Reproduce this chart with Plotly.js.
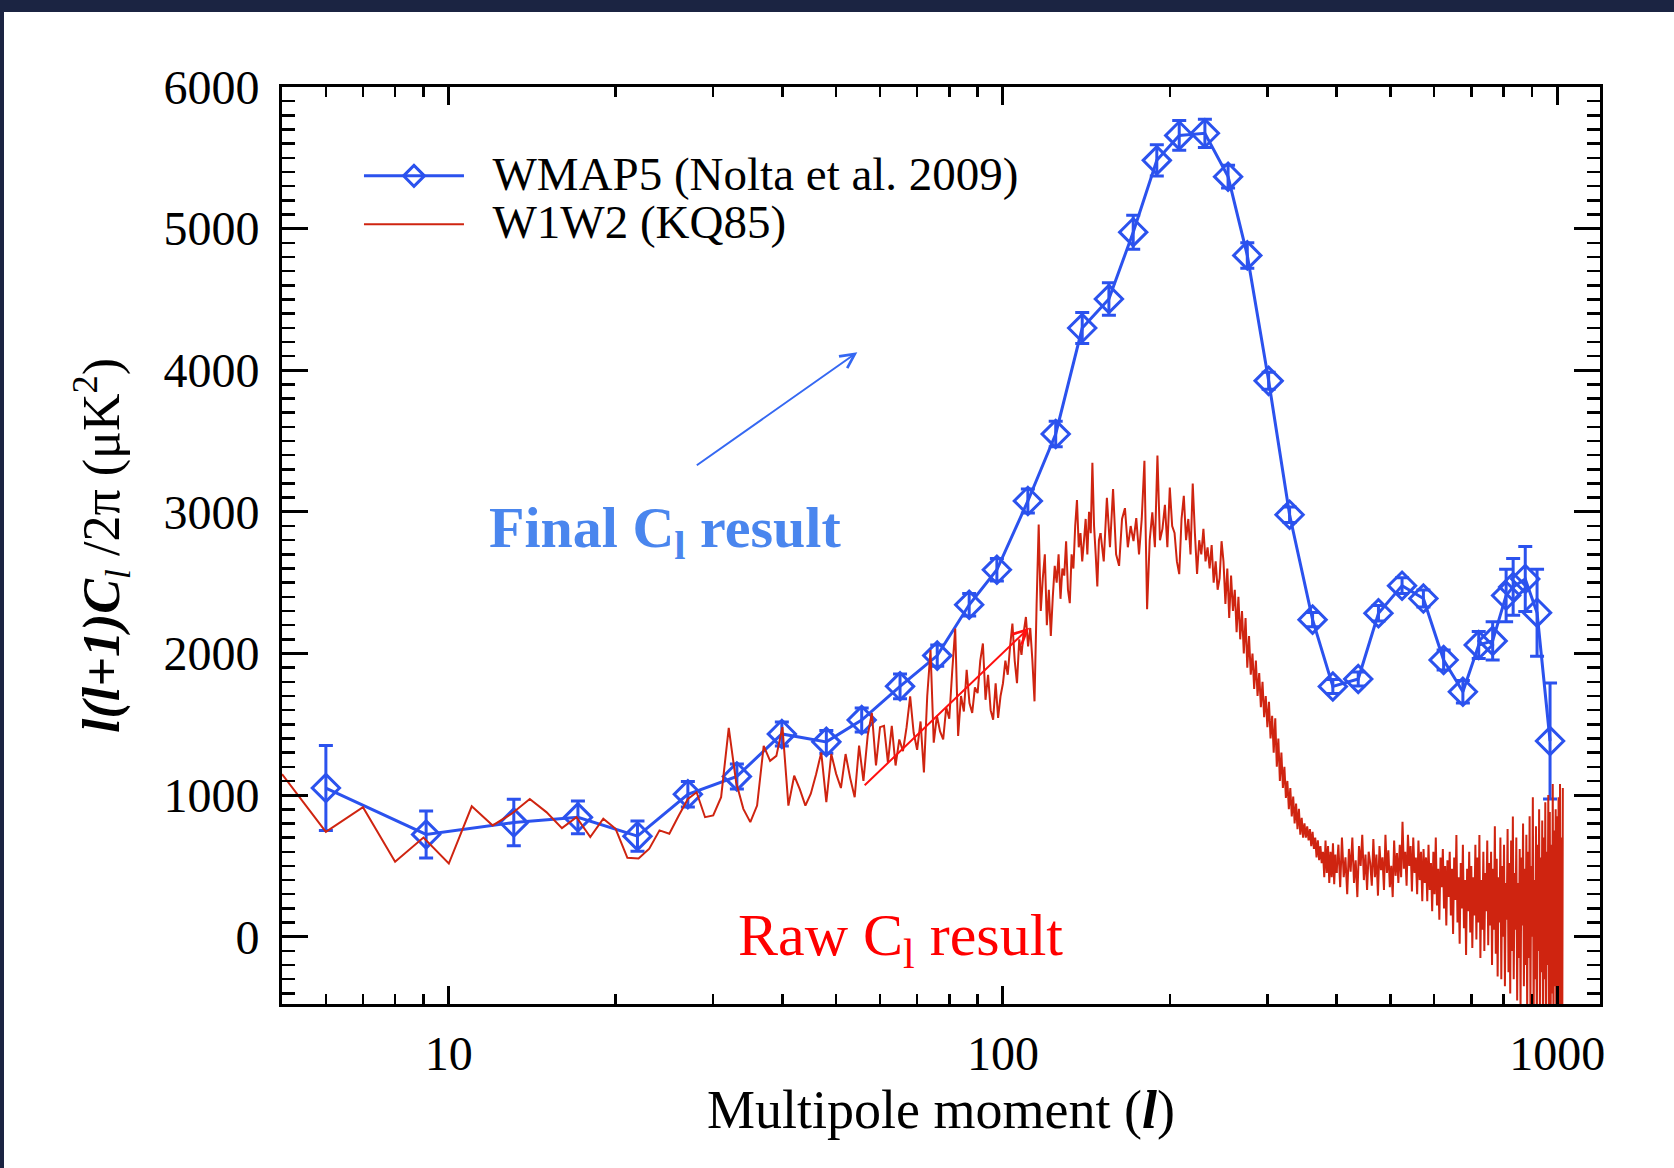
<!DOCTYPE html>
<html><head><meta charset="utf-8">
<script src="https://cdn.plot.ly/plotly-3.0.1.min.js"></script>
<style>
html,body{margin:0;padding:0;background:#1b2442;width:1674px;height:1168px;overflow:hidden;}
#plot{position:absolute;left:4px;top:12px;width:1670px;height:1156px;background:#fff;}
</style></head><body><div id="plot"></div>
<script>
// ---- WMAP5 binned spectrum (Nolta et al. 2009) ----
const wmapL = [6.0, 9.1, 13.1, 17.1, 21.9, 27.0, 33.1, 39.9, 48.0, 55.6,
  65.2, 76.1, 86.9, 97.5, 110.9, 124.5, 139, 155.3, 171.8, 189.5,
  208, 231.4, 254.8, 276, 301.6, 329, 362, 393.8, 437.6, 476,
  525, 573.7, 624, 676, 722, 765, 809, 833, 876, 920, 971];
const wmapDl = [1050, 722, 806, 843, 710, 1006, 1132, 1432, 1376, 1530,
  1768, 1985, 2344, 2591, 3077, 3550, 4298, 4503, 4975, 5482,
  5658, 5673, 5367, 4811, 3925, 2980, 2239, 1767, 1820, 2284,
  2479, 2388, 1954, 1730, 2060, 2089, 2409, 2470, 2526, 2288, 1382];
const wmapErr = [300, 166, 164, 115, 107, 90, 88, 85, 80, 85,
  88, 75, 80, 80, 85, 90, 110, 115, 120, 110,
  105, 100, 80, 90, 60, 55, 50, 50, 50, 55,
  55, 60, 70, 80, 95, 135, 185, 200, 230, 307, 410];

// ---- W1W2 (KQ85) raw spectrum, read per multipole ----
// segment 1: l = 5 ... 150, every multipole
const rawStart1 = 5, rawStep1 = 1;
const raw1 = [1148,740,914,529,700,517,921,786,870,973,
 880,767,844,704,833,762,557,552,622,751,
 727,856,973,1020,844,856,985,1475,1090,903,
 809,926,1347,1242,1277,1480,926,1137,1040,926,
 1010,1148,1300,950,1290,1150,1050,1290,1120,985,
 1350,1100,1420,1580,1209,1480,1489,1230,1489,1209,
 1393,1310,1480,1697,1440,1320,1520,1160,1700,2024,
 1370,1560,1450,1393,1620,1540,1880,2176,1417,1700,
 1590,1884,1650,1580,1760,1720,1950,2071,1673,1850,
 1600,1533,1790,1545,1700,1790,1950,1850,2050,2211,
 1950,1790,2100,1990,2150,2258,2050,2180,1950,1662,
 2351,2910,2300,2531,2700,2200,2450,2124,2400,2619,
 2500,2700,2386,2600,2550,2793,2450,2355,2700,2600,
 2900,3084,2750,2850,2650,2793,2950,2700,3000,2850,
 3346,2900,2700,2473,2800,2850];
// segment 2: l = 150 ... 400, every 2nd multipole
const rawStart2 = 150, rawStep2 = 2;
const raw2 = [2850,2650,3100,2750,3161,2700,2619,2950,3026,2750,
 2900,2793,2956,2700,2950,3360,2313,2800,2996,2750,
 3398,2800,2880,3050,2750,3171,2900,2851,2650,2560,
 2950,3113,2800,2950,2700,3200,2850,2561,2800,2700,
 2880,2650,2750,2600,2765,2500,2650,2450,2531,2793,
 2650,2350,2600,2250,2550,2300,2450,2150,2400,2100,
 2300,2000,2250,1900,2124,1850,2000,1750,1950,1700,
 1862,1620,1800,1550,1700,1480,1659,1400,1560,1300,
 1542,1200,1400,1100,1300,1050,1200,980,1100,900,
 1050,850,990,800,940,760,903,720,840,700,
 800,700,780,680,760,640,741,620,700,560,
 680,540,640,520,600,420,680,450,640,380,
 600,420,660,370,580,450];
// segment 3: l = 400 ... 1024, every 3rd multipole
const rawStart3 = 400, rawStep3 = 3;
const raw3 = [450,650,350,700,420,560,300,620,460,700,380,540,280,640,500,720,400,580,330,600,
 520,360,690,420,580,290,640,470,560,330,720,450,610,350,500,280,680,430,590,380,
 650,420,811,480,600,360,720,500,640,320,700,450,560,300,680,400,600,250,620,380,
 560,250,650,330,520,180,600,300,700,220,480,120,560,350,620,200,500,80,540,280,
 600,150,480,20,560,260,718,100,420,-50,520,200,650,60,400,-129,480,180,600,30,
 500,-80,420,150,650,-20,560,100,718,-150,400,50,600,-100,450,180,680,-60,520,80,
 600,-200,480,50,780,-120,550,-280,420,100,700,-300,500,0,650,-350,380,120,760,-250,
 520,-400,680,-100,849,-300,450,50,700,-450,380,-150,620,-500,560,80,800,-350,480,-200,
 720,-550,600,-150,850,-480,500,0,985,-600,400,-300,780,-700,650,-100,900,-520,560,-250,
 820,-650,700,-300,950,-800,600,-200,1000,-550,880,-900,650,-400,1078,-700,750,-350,900,-1000,
 850,-800,985,-600,1078,-900,700,-1100,1050];

// ---- axis ticks ----
const xTickVals = [10, 100, 1000];
const xTickText = ['10', '100', '1000'];
const xMinorVals = [6,7,8,9,20,30,40,50,60,70,80,90,200,300,400,500,600,700,800,900];
const yTickVals = [0, 1000, 2000, 3000, 4000, 5000, 6000];

const SERIF = '"Liberation Serif", "Times New Roman", serif';
const BLUE = '#2b52ee';
const RED = '#cf2410';
const big = s => '<span style="font-size:47px">\u00a0\u00a0' + s + '</span>';

const redLine = {color: RED, width: 2, simplify: false};
const traces = [
  {type: 'scatter', mode: 'lines+markers', name: big('WMAP5 (Nolta et al. 2009)'),
   x: wmapL, y: wmapDl, legendrank: 1,
   error_y: {type: 'data', array: wmapErr, visible: true, color: BLUE, thickness: 3, width: 7},
   line: {color: BLUE, width: 3},
   marker: {symbol: 'diamond-open', size: 21, color: BLUE, line: {color: BLUE, width: 3}}},
  {type: 'scatter', mode: 'lines', name: big('W1W2 (KQ85)'), legendgroup: 'raw', legendrank: 2,
   x0: rawStart1, dx: rawStep1, y: raw1, line: redLine},
  {type: 'scatter', mode: 'lines', name: 'W1W2 (KQ85)', legendgroup: 'raw', showlegend: false,
   x0: rawStart2, dx: rawStep2, y: raw2, line: redLine},
  {type: 'scatter', mode: 'lines', name: 'W1W2 (KQ85)', legendgroup: 'raw', showlegend: false,
   x0: rawStart3, dx: rawStep3, y: raw3, line: redLine}
];

const layout = {
  width: 1670, height: 1156,
  margin: {l: 278, r: 74, t: 75, b: 164, pad: 0},
  paper_bgcolor: '#ffffff', plot_bgcolor: '#ffffff',
  font: {family: SERIF, color: '#000', size: 46},
  showlegend: true,
  legend: {x: 0.0584, y: 0.935, xanchor: 'left', yanchor: 'top', bgcolor: 'rgba(0,0,0,0)',
    font: {family: SERIF, size: 35, color: '#000'}, tracegroupgap: 0, itemwidth: 100},
  xaxis: {type: 'log', range: [Math.log10(5), Math.log10(1195)],
    tickmode: 'array', tickvals: xTickVals, ticktext: xTickText,
    ticks: 'inside', ticklen: 18, tickwidth: 3, tickcolor: '#000',
    minor: {tickmode: 'array', tickvals: xMinorVals, ticks: 'inside', ticklen: 10, tickwidth: 2.5, tickcolor: '#000', showgrid: false},
    showline: true, linewidth: 3, linecolor: '#000', mirror: 'ticks',
    showgrid: false, zeroline: false, ticklabelstandoff: 5,
    tickfont: {family: SERIF, size: 48, color: '#000'},
    title: {text: 'Multipole moment (<b><i>l</i></b>)', standoff: 8, font: {family: SERIF, size: 54, color: '#000'}}},
  yaxis: {range: [-475, 6000],
    tickmode: 'array', tickvals: yTickVals,
    ticks: 'inside', ticklen: 26, tickwidth: 3, tickcolor: '#000',
    minor: {dtick: 100, ticks: 'inside', ticklen: 13, tickwidth: 2.5, tickcolor: '#000', showgrid: false},
    showline: true, linewidth: 3, linecolor: '#000', mirror: 'ticks',
    showgrid: false, zeroline: false, ticklabelstandoff: 10,
    tickfont: {family: SERIF, size: 48, color: '#000'},
    title: {text: '<b><i>l(l+1)C</i></b><sub><i>l</i></sub> /2π (μK<sup>2</sup>)\u00a0\u00a0', standoff: 28, font: {family: SERIF, size: 52, color: '#000'}}},
  annotations: [
    {xref: 'paper', yref: 'paper', x: 0.2906, y: 0.5158, xanchor: 'center', yanchor: 'middle',
     text: '<b>Final C<sub>l</sub> result</b>', showarrow: false,
     font: {family: SERIF, size: 58, color: '#4a86ee'}},
    {xref: 'paper', yref: 'paper', x: 0.469, y: 0.0703, xanchor: 'center', yanchor: 'middle',
     text: 'Raw C<sub>l</sub> result', showarrow: false,
     font: {family: SERIF, size: 60, color: '#ff0000'}},
    {xref: 'paper', yref: 'paper', x: 0.4365, y: 0.7107, text: '', showarrow: true,
     ax: -162, ay: 114, arrowhead: 5, arrowsize: 1.4, arrowwidth: 2, arrowcolor: '#3568f2'},
    {xref: 'paper', yref: 'paper', x: 0.5669, y: 0.4104, text: '', showarrow: true,
     ax: -166, ay: 159, arrowhead: 5, arrowsize: 1.4, arrowwidth: 2, arrowcolor: '#ff1010'}
  ],
  hovermode: false
};

Plotly.newPlot('plot', traces, layout, {displayModeBar: false, staticPlot: true});
</script></body></html>
